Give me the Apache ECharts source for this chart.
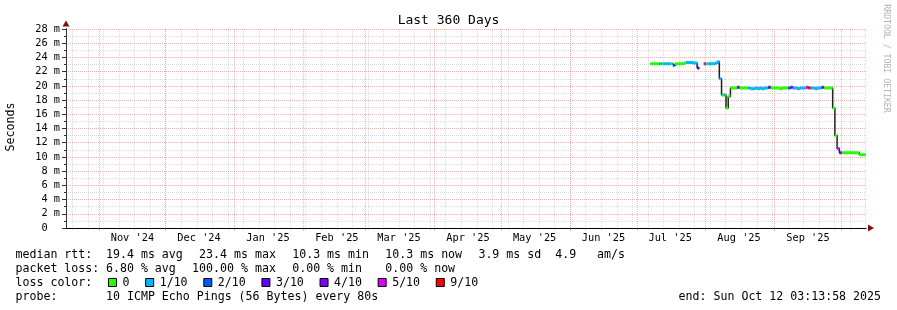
<!DOCTYPE html>
<html><head><meta charset="utf-8">
<script src="https://cdn.jsdelivr.net/npm/echarts@6/dist/echarts.min.js"></script>
<style>html,body{margin:0;padding:0;background:#fff}#c{width:897px;height:310px}</style>
</head><body><div id="c"></div>
<script>
// ---------------- data ----------------
const chartTitle = 'Last 360 Days';
const yAxisTitle = 'Seconds';
const watermark = 'RRDTOOL / TOBI OETIKER';
const endTime = Date.UTC(2025, 9, 12, 3, 13, 58);
const spanDays = 360;
const yMax = 28;
const yStep = 2;
const monthLabels = ["Nov '24","Dec '24","Jan '25","Feb '25","Mar '25","Apr '25","May '25","Jun '25","Jul '25","Aug '25","Sep '25"];
// day index (days since start of the 360-day window) of the first sample
const firstDay = 263;
// daily median rtt in ms (null = no data)
const medianMs = [
  23.1,23.1,23.1,23.1,23.1,23.1,23.1,23.1,23.1,23.1,
  22.9,23.1,23.1,23.1,23.1,23.2,23.3,23.3,23.3,23.2,
  23.2,22.5,null,null,23.1,23.1,23.1,23.1,23.1,23.2,
  23.4,21.0,18.7,18.7,16.9,18.5,19.7,19.7,19.7,19.8,
  19.7,19.7,19.7,19.7,19.7,19.6,19.6,19.7,19.6,19.7,
  19.6,19.7,19.7,19.8,19.7,19.7,19.7,19.7,19.6,19.7,
  19.7,19.7,19.7,19.8,19.7,19.7,19.6,19.7,19.7,19.7,
  19.8,19.7,19.7,19.7,19.6,19.7,19.7,19.8,19.7,19.7,
  19.7,19.7,16.9,13.0,11.2,10.6,10.6,10.6,10.6,10.6,
  10.6,10.6,10.6,10.6,10.3,10.3,10.3
];
// daily packet loss (tenths)
const lossTenths = [
  0,0,0,0,1,0,1,1,1,0,
  2,0,0,0,0,0,1,1,1,1,
  1,3,null,null,5,0,1,1,1,1,
  1,1,0,1,0,0,0,0,0,4,
  0,0,0,0,1,1,1,1,1,1,
  1,1,1,3,0,0,0,0,0,0,
  0,0,2,4,1,1,1,1,1,1,
  5,9,1,1,1,1,1,4,0,0,
  0,0,0,0,5,4,0,0,0,0,
  0,0,0,0,0,0,0
];
const lossLevels = [0, 1, 2, 3, 4, 5, 9];
const lossLabels = ['0', '1/10', '2/10', '3/10', '4/10', '5/10', '9/10'];
const lossColors = ['#26ff00', '#00b8ff', '#0059ff', '#5e00ff', '#7e00ff', '#dd00ff', '#ff0000'];
const rttStats = ['19.4 ms avg', '23.4 ms max', '10.3 ms min', '10.3 ms now', '3.9 ms sd  4.9   am/s'];
const lossStats = ['6.80 % avg', '100.00 % max', '0.00 % min', '0.00 % now'];
const probeText = '10 ICMP Echo Pings (56 Bytes) every 80s';
const endText = 'end: Sun Oct 12 03:13:58 2025';

// ---------------- axis helpers ----------------
const H = 3600000, D = 86400000;
const startTime = endTime - spanDays * D;
const nCat = spanDays * 24 + 1;
const cats = Array.from({length: nCat}, (_, i) => String(i));
const idxOf = t => Math.round((t - startTime) / H);
const monthIdx = new Set();
const labelIdx = new Map();
{
  let y = new Date(startTime).getUTCFullYear(), m = new Date(startTime).getUTCMonth();
  let k = 0;
  for (let n = 0; n < 16; n++) {
    const t = Date.UTC(y, m, 1);
    if (t > startTime && t < endTime) monthIdx.add(idxOf(t));
    const tl = t + 15 * D;
    if (tl > startTime && tl < endTime && k < monthLabels.length) { labelIdx.set(idxOf(tl), monthLabels[k]); k++; }
    m++; if (m > 11) { m = 0; y++; }
  }
}
const weekIdx = new Set();
{
  let t = Date.UTC(new Date(startTime).getUTCFullYear(), new Date(startTime).getUTCMonth(), new Date(startTime).getUTCDate()) + D;
  while (new Date(t).getUTCDay() !== 0) t += D;
  for (; t < endTime; t += 7 * D) weekIdx.add(idxOf(t));
}
const isMonth = (i) => monthIdx.has(i);
const isWeek = (i) => weekIdx.has(i);
const isLabel = (i) => labelIdx.has(i);

const mono = "'DejaVu Sans Mono', monospace";
const gridGray = 'rgba(150,150,150,0.32)';
const gridRed = 'rgba(230,70,70,0.4)';
const arrowCol = '#801010';
const axisCol = '#303030';

// ---------------- series ----------------
const series = [];
const blackData = [];
for (let i = 0; i < medianMs.length; i++) {
  const d = firstDay + i, v = medianMs[i];
  if (v == null) { blackData.push([d, '-']); continue; }
  blackData.push([d, v], [d + 1, v]);
}
series.push({type: 'line', xAxisIndex: 3, yAxisIndex: 1, data: blackData, symbol: 'none', showSymbol: false,
  lineStyle: {color: '#202020', width: 1.5}, connectNulls: false, silent: true, z: 2});
lossLevels.forEach((lvl, k) => {
  const data = [];
  for (let i = 0; i < medianMs.length; i++) {
    if (medianMs[i] == null || lossTenths[i] !== lvl) continue;
    const d = firstDay + i;
    data.push([d, medianMs[i]], [d + 1, medianMs[i]], [d + 1, '-']);
  }
  series.push({type: 'line', xAxisIndex: 3, yAxisIndex: 1, data, symbol: 'none', showSymbol: false,
    lineStyle: {color: lossColors[k], width: 3, cap: 'butt'}, connectNulls: false, silent: true, z: 3});
});

// ---------------- legend graphics ----------------
const LF = 11.6, CW = 6.98;
const font = LF + 'px ' + mono;
const T = (x, y, s, align) => ({type: 'text', x, y, silent: true,
  style: {text: s, font, fill: '#000', align: align || 'left', verticalAlign: 'middle'}});
const rows = [254.5, 268.5, 282.5, 296.5];
const col0 = 15.5, col1 = 106, tab = 93.1;
const graphics = [];
graphics.push(T(col0, rows[0], 'median rtt:'));
rttStats.forEach((s, k) => graphics.push(T(col1 + tab * k, rows[0], s)));
graphics.push(T(col0, rows[1], 'packet loss:'));
lossStats.forEach((s, k) => graphics.push(T(col1 + tab * k - (k === 1 ? CW : 0), rows[1], s)));
graphics.push(T(col0, rows[2], 'loss color:'));
{
  let x = 108;
  lossLabels.forEach((lab, k) => {
    graphics.push({type: 'rect', silent: true, shape: {x: x + 0.5, y: rows[2] - 4, width: 8, height: 8},
      style: {fill: lossColors[k], stroke: '#000', lineWidth: 1}});
    graphics.push(T(x + 14.5, rows[2], lab));
    x = x + 14.5 + CW * lab.length + 15.7;
  });
}
graphics.push(T(col0, rows[3], 'probe:'));
graphics.push(T(col1, rows[3], probeText));
graphics.push(T(881, rows[3], endText, 'right'));
graphics.push({type: 'text', x: 11, y: 127, rotation: Math.PI / 2, silent: true,
  style: {text: yAxisTitle, font, fill: '#000', align: 'center', verticalAlign: 'middle'}});
graphics.push({type: 'text', x: 886, y: 58.5, rotation: -Math.PI / 2, silent: true,
  style: {text: watermark, font: '8.2px ' + mono, fill: '#b4b4b4', align: 'center', verticalAlign: 'middle'}});

// ---------------- chart ----------------
const chart = echarts.init(document.getElementById('c'), null, {renderer: 'canvas'});
chart.setOption({
  animation: false,
  backgroundColor: '#ffffff',
  title: {text: chartTitle, left: 'center', top: 9,
    textStyle: {fontFamily: mono, fontSize: 13, fontWeight: 'normal', color: '#000'}},
  grid: {left: 66, top: 29, width: 800, height: 199, containLabel: false},
  xAxis: [
    { // arrow
      type: 'value', position: 'bottom', min: 0, max: 1,
      axisLine: {show: true, symbol: ['none', 'triangle'], symbolSize: [7, 6], symbolOffset: [0, 5],
        lineStyle: {color: arrowCol, width: 1}},
      axisTick: {show: false}, axisLabel: {show: false}, splitLine: {show: false}
    },
    { // weekly grid
      type: 'category', position: 'bottom', data: cats, boundaryGap: false,
      axisLine: {show: false},
      axisTick: {show: true, interval: isWeek, length: 2, lineStyle: {color: gridGray}},
      axisLabel: {show: false},
      splitLine: {show: true, interval: isWeek, lineStyle: {color: gridGray, width: 1, type: [1, 1]}}
    },
    { // monthly grid + labels
      type: 'category', position: 'bottom', data: cats, boundaryGap: false,
      axisLine: {show: true, lineStyle: {color: '#000', width: 1}},
      axisTick: {show: true, interval: isMonth, length: 3, lineStyle: {color: gridRed}},
      axisLabel: {show: true, interval: isLabel, formatter: (v) => labelIdx.get(Number(v)) || '',
        fontFamily: mono, fontSize: 10.3, color: '#000', margin: 5, hideOverlap: false},
      splitLine: {show: true, interval: isMonth, lineStyle: {color: gridRed, width: 1, type: [1, 1]}}
    },
    { // data axis (days since window start)
      type: 'value', position: 'bottom', min: 0, max: spanDays, show: false
    }
  ],
  yAxis: [
    { // arrow
      type: 'value', position: 'left', min: 0, max: 1,
      axisLine: {show: true, symbol: ['none', 'triangle'], symbolSize: [7, 6], symbolOffset: [0, 5.5],
        lineStyle: {color: arrowCol, width: 1}},
      axisTick: {show: false}, axisLabel: {show: false}, splitLine: {show: false}
    },
    {
      type: 'value', position: 'left', min: 0, max: yMax, interval: yStep,
      axisLine: {show: true, lineStyle: {color: axisCol, width: 1}},
      axisTick: {show: true, length: 4, lineStyle: {color: axisCol}},
      minorTick: {show: true, splitNumber: 2, length: 2, lineStyle: {color: axisCol}},
      axisLabel: {formatter: (v) => v === 0 ? '0  ' : v + ' m', fontFamily: mono, fontSize: 10.3,
        color: '#000', margin: 6},
      splitLine: {show: true, lineStyle: {color: gridRed, width: 1, type: [1, 1]}},
      minorSplitLine: {show: true, lineStyle: {color: gridGray, width: 1, type: [1, 1]}}
    }
  ],
  series,
  graphic: graphics
});
</script>
</body></html>
